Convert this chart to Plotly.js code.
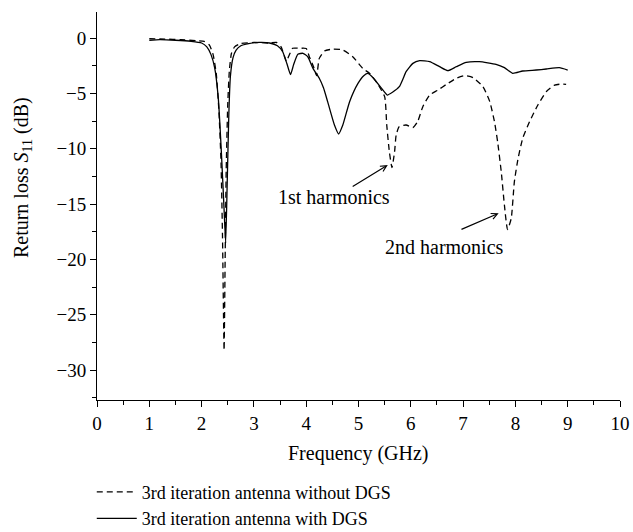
<!DOCTYPE html>
<html>
<head>
<meta charset="utf-8">
<script src="https://cdn.plot.ly/plotly-3.0.1.min.js"></script>
<style>html,body{margin:0;padding:0;background:#fff;}#chart{width:633px;height:532px;}</style>
</head>
<body>
<div id="chart"></div>
<script>
// Frequency (GHz) and S11 (dB) for the antenna without DGS (dashed)
const freqNoDGS = [1.00,1.30,1.60,1.90,2.05,2.15,2.22,2.28,2.33,2.37,2.40,2.43,2.45,2.47,2.50,2.53,2.57,2.63,2.75,3.00,3.30,3.43,3.52,3.58,3.62,3.67,3.74,3.87,4.00,4.06,4.14,4.20,4.25,4.35,4.51,4.70,4.89,5.08,5.21,5.34,5.50,5.54,5.59,5.64,5.69,5.72,5.78,5.91,6.04,6.13,6.23,6.36,6.52,6.68,6.87,7.03,7.19,7.38,7.51,7.60,7.66,7.73,7.79,7.85,7.92,7.98,8.05,8.14,8.27,8.43,8.59,8.75,8.88,8.97];
const s11NoDGS = [-0.05,-0.10,-0.15,-0.25,-0.30,-0.65,-1.5,-3.2,-6.5,-11,-18,-28.2,-20,-12,-6,-3,-1.4,-0.8,-0.5,-0.4,-0.45,-0.4,-0.8,-1.6,-2.1,-1.6,-0.93,-0.93,-0.95,-1.69,-2.6,-3.4,-1.84,-1.17,-1.0,-1.08,-1.69,-2.74,-3.19,-3.95,-5.3,-7.86,-10.27,-11.7,-10.27,-8.76,-8.0,-7.86,-8.1,-7.56,-6.2,-5.15,-4.7,-4.19,-3.64,-3.4,-3.58,-4.4,-5.75,-7.56,-9.37,-12.1,-15.1,-17.3,-16.3,-13.0,-10.9,-9.06,-7.56,-6.05,-4.85,-4.25,-4.16,-4.19];

// Frequency (GHz) and S11 (dB) for the antenna with DGS (solid)
const freqDGS = [1.00,1.20,1.50,1.80,2.00,2.10,2.18,2.25,2.32,2.38,2.43,2.46,2.49,2.52,2.55,2.60,2.66,2.75,2.90,3.10,3.30,3.45,3.55,3.63,3.70,3.76,3.84,3.94,4.03,4.13,4.25,4.33,4.41,4.54,4.62,4.70,4.83,4.99,5.10,5.18,5.26,5.34,5.45,5.55,5.65,5.78,5.85,5.91,6.04,6.17,6.36,6.55,6.71,6.87,7.06,7.31,7.63,7.79,7.95,8.14,8.40,8.59,8.84,9.00];
const s11DGS = [-0.20,-0.15,-0.20,-0.30,-0.45,-0.80,-1.5,-2.7,-5.5,-10.5,-15.5,-18.5,-13,-7,-3.5,-1.8,-1.1,-0.7,-0.5,-0.4,-0.45,-0.7,-1.24,-2.3,-3.3,-2.4,-1.47,-1.38,-1.69,-2.74,-3.64,-4.5,-5.75,-7.86,-8.67,-7.86,-5.75,-4.1,-3.4,-3.19,-3.5,-3.95,-4.6,-5.15,-4.9,-4.4,-3.7,-3.04,-2.29,-2.05,-2.14,-2.59,-2.95,-2.59,-2.2,-2.14,-2.38,-2.68,-3.19,-2.98,-2.89,-2.8,-2.68,-2.89];

const seriesNames = ["3rd iteration antenna without DGS", "3rd iteration antenna with DGS"];
const xTickVals = [0,1,2,3,4,5,6,7,8,9,10];
const yTickVals = [-30,-25,-20,-15,-10,-5,0];
const harmonicLabels = ["1st harmonics", "2nd harmonics"];
const xTitle = "Frequency (GHz)";
const yTitle = "Return loss <i>S</i><sub>11</sub> (dB)";

const FONT = "Liberation Serif, Times New Roman, serif";

const traces = [
  {x: freqNoDGS, y: s11NoDGS, name: seriesNames[0], type: "scatter", mode: "lines",
   line: {color: "#000", width: 1.3, dash: "6px,4px", shape: "spline", smoothing: 0.5}},
  {x: freqDGS, y: s11DGS, name: seriesNames[1], type: "scatter", mode: "lines",
   line: {color: "#000", width: 1.3, shape: "spline", smoothing: 0.5}}
];

const layout = {
  width: 633, height: 532,
  margin: {l: 97, r: 13, t: 12, b: 132, autoexpand: false},
  paper_bgcolor: "#fff", plot_bgcolor: "#fff",
  font: {family: FONT, size: 19, color: "#000"},
  showlegend: true,
  legend: {x: -0.01, y: -0.19, xanchor: "left", yanchor: "top", orientation: "v",
           font: {family: FONT, size: 18, color: "#000"}, itemwidth: 40, bgcolor: "rgba(0,0,0,0)"},
  xaxis: {range: [0, 10], tickvals: xTickVals, ticks: "outside", ticklen: 6, tickwidth: 1, tickcolor: "#000",
          minor: {dtick: 0.5, ticks: "outside", ticklen: 4, tickwidth: 1, tickcolor: "#000", showgrid: false},
          showline: true, linecolor: "#000", linewidth: 1, showgrid: false, zeroline: false,
          tickfont: {family: FONT, size: 19}},
  yaxis: {range: [-32.7, 2.35], tickvals: yTickVals, ticks: "outside", ticklen: 6, tickwidth: 1, tickcolor: "#000",
          minor: {dtick: 2.5, ticks: "outside", ticklen: 4, tickwidth: 1, tickcolor: "#000", showgrid: false},
          showline: true, linecolor: "#000", linewidth: 1, showgrid: false, zeroline: false,
          tickfont: {family: FONT, size: 19}},
  annotations: [
    {x: 0.5, y: -0.1366, xref: "paper", yref: "paper", xanchor: "center", yanchor: "middle",
     showarrow: false, text: xTitle, font: {family: FONT, size: 20}},
    {x: -0.1434, y: 0.572, xref: "paper", yref: "paper", xanchor: "center", yanchor: "middle",
     showarrow: false, textangle: -90, text: yTitle, font: {family: FONT, size: 20}},
    {x: 5.56, y: -11.47, ax: 4.86, ay: -13.49, xref: "x", yref: "y", axref: "x", ayref: "y",
     showarrow: true, arrowhead: 5, arrowsize: 1, arrowwidth: 1.2, arrowcolor: "#000", text: ""},
    {x: 4.53, y: -14.34, xref: "x", yref: "y", showarrow: false, text: harmonicLabels[0],
     font: {family: FONT, size: 20}},
    {x: 7.68, y: -15.84, ax: 6.94, ay: -17.34, xref: "x", yref: "y", axref: "x", ayref: "y",
     showarrow: true, arrowhead: 5, arrowsize: 1, arrowwidth: 1.2, arrowcolor: "#000", text: ""},
    {x: 6.65, y: -18.9, xref: "x", yref: "y", showarrow: false, text: harmonicLabels[1],
     font: {family: FONT, size: 20}}
  ]
};

Plotly.newPlot("chart", traces, layout, {staticPlot: true, displayModeBar: false});
</script>
</body>
</html>
